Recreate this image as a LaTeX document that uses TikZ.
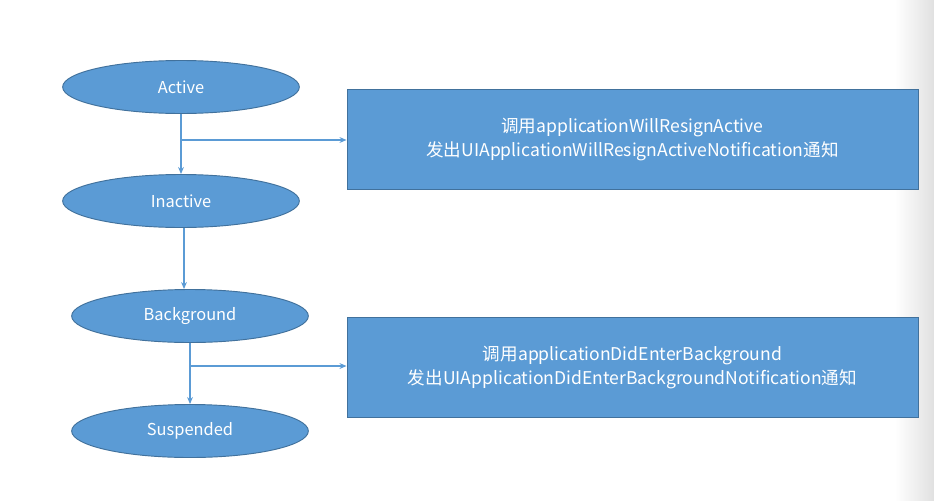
\documentclass[tikz,border=0pt]{standalone}
\usepackage{fontspec}
\setmainfont{Noto Sans CJK SC}
\usetikzlibrary{shapes.geometric,arrows.meta}
\definecolor{blu}{HTML}{5B9BD5}
\definecolor{edge}{HTML}{41719C}
\begin{document}
\begin{tikzpicture}[x=0.03cm,y=-0.03cm,
  st/.style={ellipse,fill=blu,draw=edge,line width=0.8pt,minimum width=7.1cm,minimum height=1.59cm,text=white,font=\fontsize{14}{16}\selectfont},
  bx/.style={rectangle,fill=blu,draw=edge,line width=0.8pt,minimum width=17.13cm,minimum height=3.0cm,text=white,align=center,font=\fontsize{15}{21}\selectfont},
  ar/.style={draw=blu,line width=0.9pt,-{Stealth[length=6pt,width=5pt]}}]
\useasboundingbox (0,0) rectangle (934,500);
\shade[left color=white,right color=black!12] (895,0) rectangle (934,500);
\node[st] (a) at (181,87) {Active};
\node[st] (i) at (181,201) {Inactive};
\node[st] (b) at (190,316) {Background};
\node[st] (s) at (190,431) {Suspended};
\node[bx] (b1) at (632.5,139.5) {调用applicationWillResignActive\\发出UIApplicationWillResignActiveNotification通知};
\node[bx] (b2) at (632.5,367.5) {调用applicationDidEnterBackground\\发出UIApplicationDidEnterBackgroundNotification通知};
\draw[ar] (a.south) -- (i.north);
\coordinate (j1) at (181,140);
\draw[ar] (j1) -- (j1 -| b1.west);
\draw[ar] (i.south -| 184,0) -- (b.north -| 184,0);
\draw[ar] (b.south) -- (s.north);
\coordinate (j2) at (190,366);
\draw[ar] (j2) -- (j2 -| b2.west);
\end{tikzpicture}
\end{document}
